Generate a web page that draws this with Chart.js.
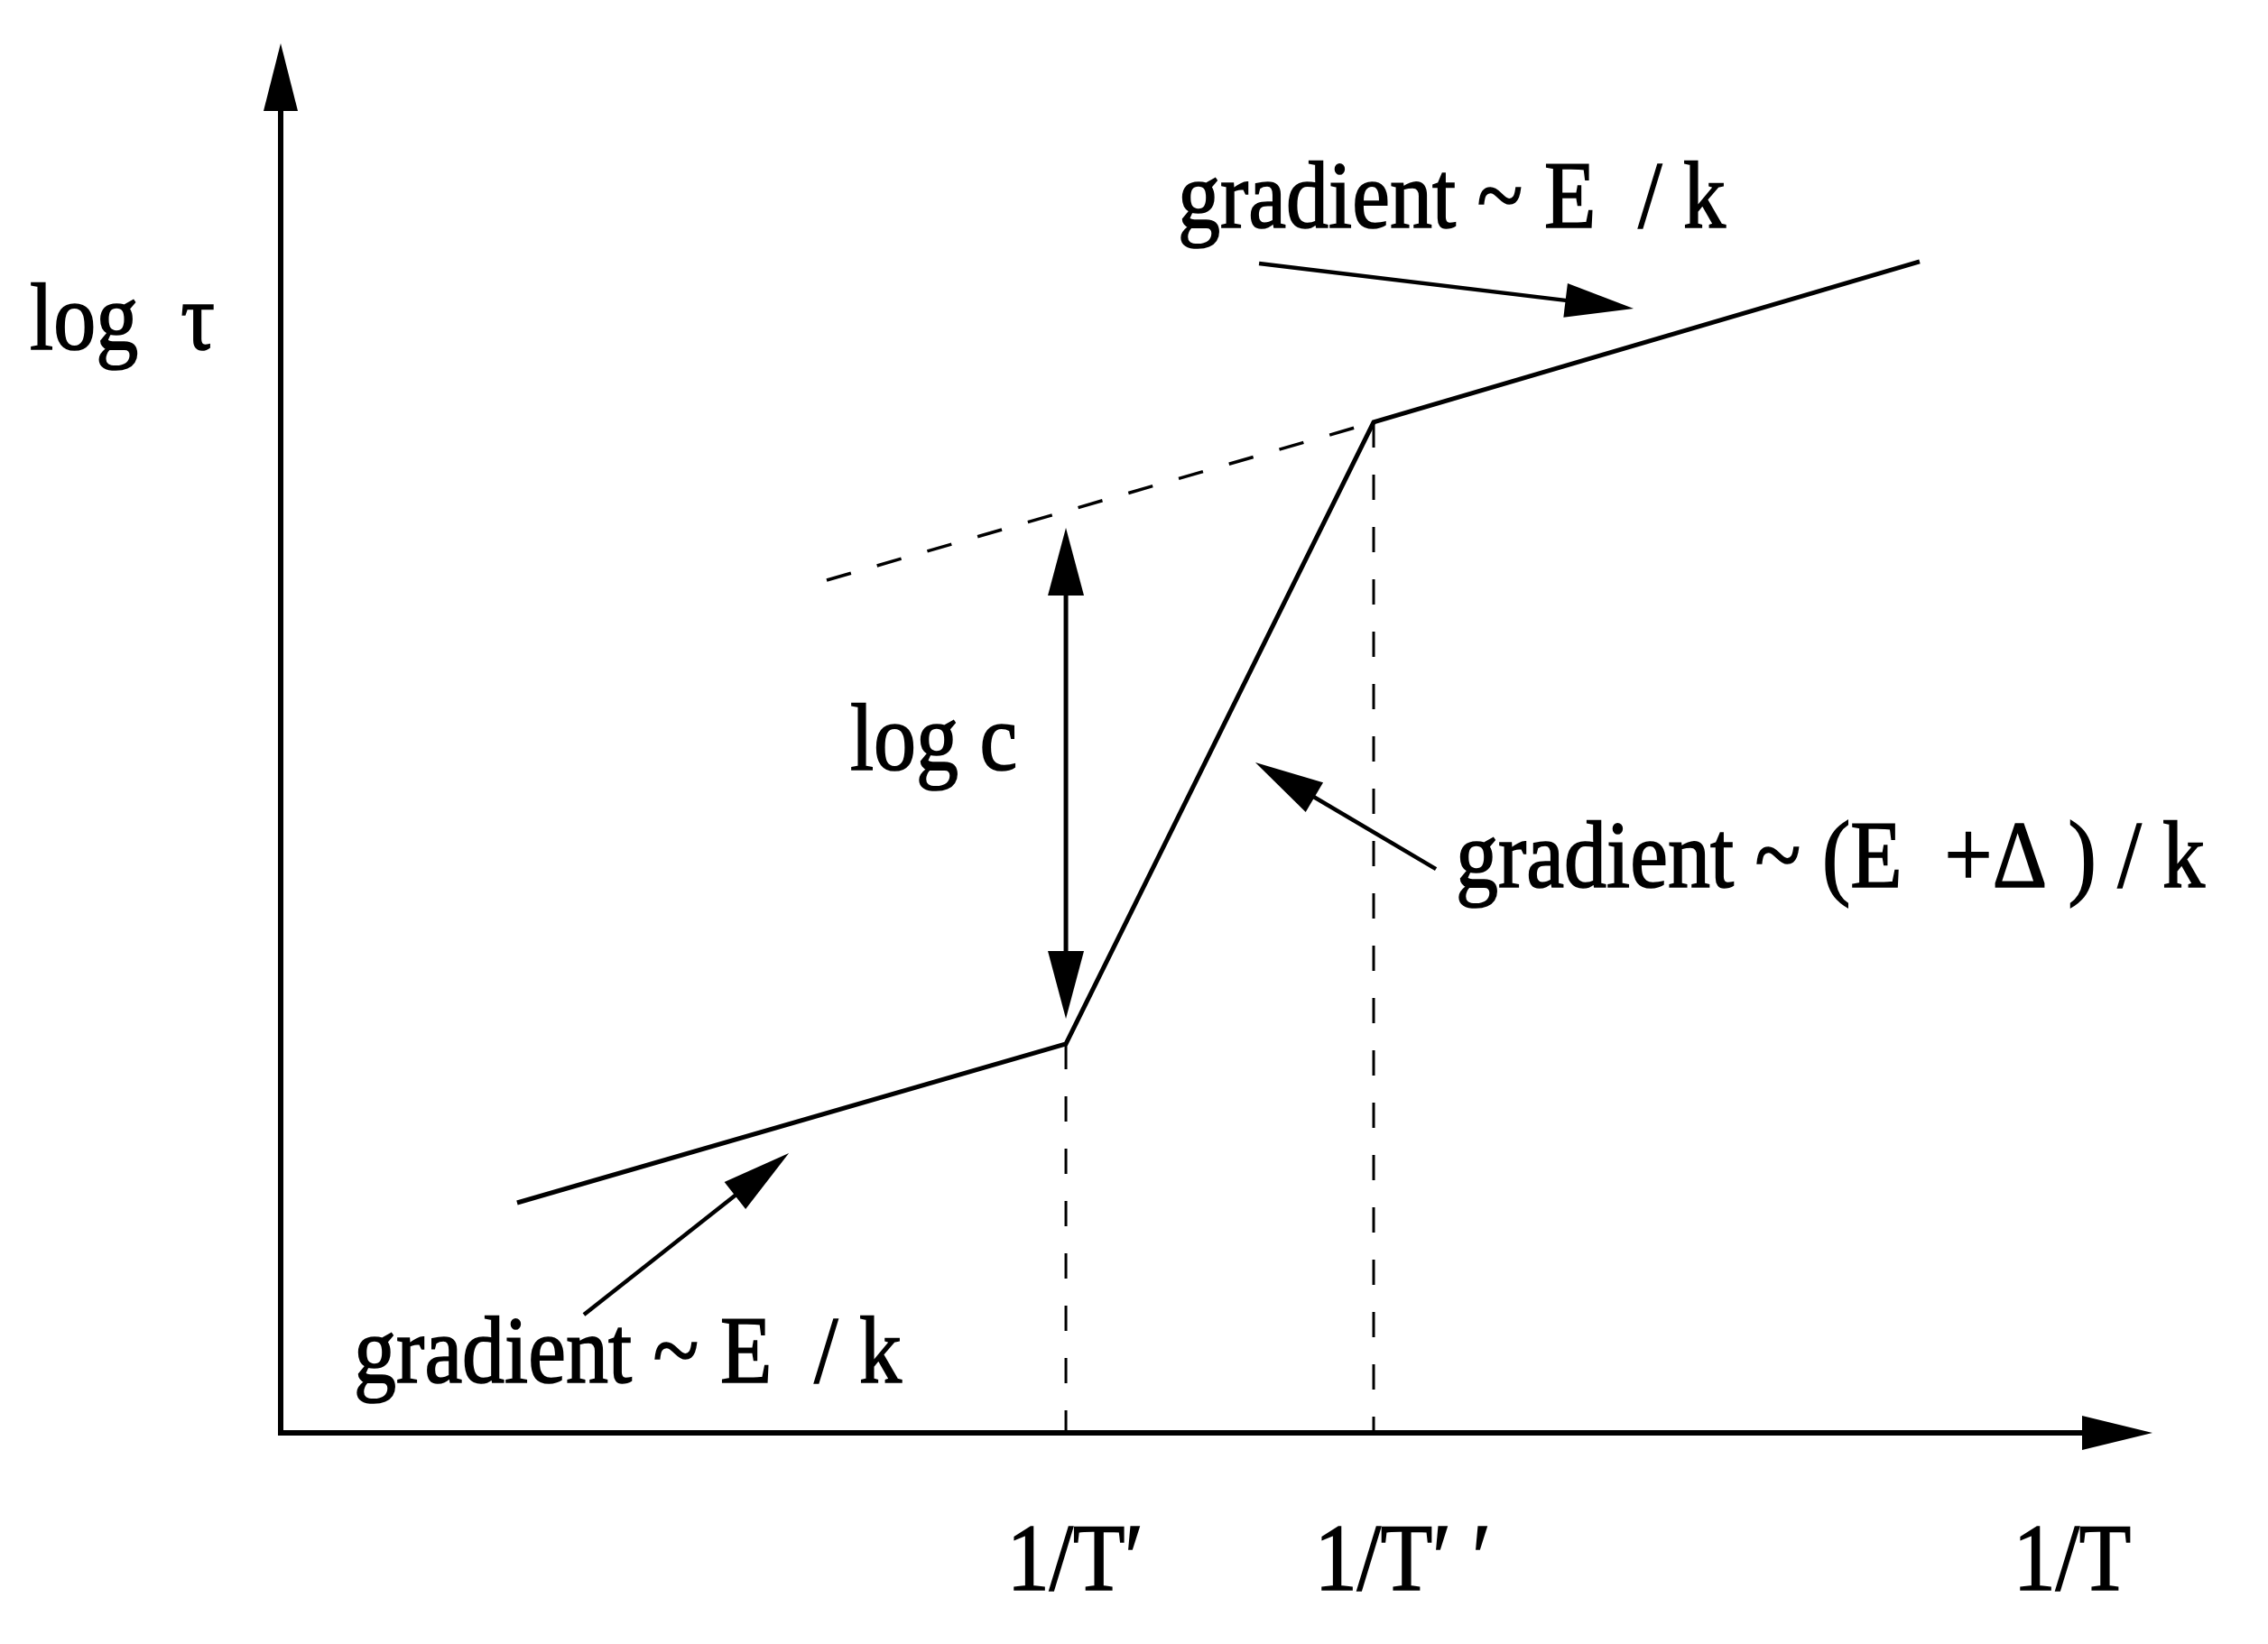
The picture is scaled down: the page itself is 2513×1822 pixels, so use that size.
<!DOCTYPE html>
<html>
<head>
<meta charset="utf-8">
<script src="https://cdn.jsdelivr.net/npm/chart.js@4.4.1/dist/chart.umd.min.js"></script>
<style>
  html, body { margin: 0; padding: 0; background: #fff; }
  .chart_box { width: 2513px; height: 1822px; position: relative; }
</style>
</head>
<body>
<div class="chart_box"><canvas id="myChart"></canvas></div>
<script>
// log tau vs 1/T, schematic units 0..10 on both axes
const curveX = [1.263, 4.195, 5.839, 8.756];
const curveY = [1.656, 2.799, 7.273, 8.429];
// dashed extrapolation of the high branch
const extrapX = [2.917, 5.839];
const extrapY = [6.136, 7.273];
// "log c" double arrow
const logcX = [4.195, 4.195];
const logcY = [6.513, 2.981];
// pointer arrows, tail -> tip
const pointerTailX = [5.227, 6.172, 1.620];
const pointerTailY = [8.416, 4.058, 0.851];
const pointerTipX = [7.228, 5.207, 2.715];
const pointerTipY = [8.091, 4.825, 2.013];
// ticks on the 1/T axis
const tickValues = [4.195, 5.839, 9.571];
const tickLabels = ["1/T′", "1/T′ ′", "1/T"];
const yTitle = "log  τ";
const noteTexts = ["gradient ~ E  / k", "log c", "gradient ~ (E  +Δ ) / k", "gradient ~ E  / k"];

const BLACK = "#000";
const FONT = '94px "Liberation Serif", "Times New Roman", serif';

// where the notes sit (data units, left edge / baseline)
const notePos = [
  { x: 4.793, y: 8.675 },
  { x: 3.042, y: 4.773 },
  { x: 6.278, y: 3.929 },
  { x: 0.391, y: 0.364 },
];

function head(ctx, x1, y1, x2, y2, len, half) {
  const a = Math.atan2(y2 - y1, x2 - x1);
  const bx = x2 - len * Math.cos(a);
  const by = y2 - len * Math.sin(a);
  ctx.beginPath();
  ctx.moveTo(x2, y2);
  ctx.lineTo(bx + half * Math.sin(a), by - half * Math.cos(a));
  ctx.lineTo(bx - half * Math.sin(a), by + half * Math.cos(a));
  ctx.closePath();
  ctx.fill();
}

function arrow(ctx, x1, y1, x2, y2, lw, len, half) {
  const a = Math.atan2(y2 - y1, x2 - x1);
  ctx.lineWidth = lw;
  ctx.beginPath();
  ctx.moveTo(x1, y1);
  ctx.lineTo(x2 - (len - 4) * Math.cos(a), y2 - (len - 4) * Math.sin(a));
  ctx.stroke();
  head(ctx, x1, y1, x2, y2, len, half);
}

function text(ctx, str, x, y) {
  ctx.save();
  ctx.translate(x, y);
  ctx.scale(1, 1.12);
  ctx.lineWidth = 1.5;
  ctx.fillText(str, 0, 0);
  ctx.strokeText(str, 0, 0);
  ctx.restore();
}

const schematic = {
  id: "schematic",
  afterDatasetsDraw(chart) {
    const ctx = chart.ctx;
    const sx = chart.scales.x;
    const sy = chart.scales.y;
    const px = (v) => sx.getPixelForValue(v);
    const py = (v) => sy.getPixelForValue(v);

    ctx.save();
    ctx.strokeStyle = BLACK;
    ctx.fillStyle = BLACK;
    ctx.lineCap = "butt";

    // axes with arrow heads
    arrow(ctx, px(0), py(0) + 3, px(0), py(10), 6, 75, 19);
    arrow(ctx, px(0) - 3, py(0), px(10), py(0), 6, 78, 19);

    // log c double arrow
    const ax = px(logcX[0]);
    const aTop = py(logcY[0]);
    const aBot = py(logcY[1]);
    ctx.lineWidth = 5;
    ctx.beginPath();
    ctx.moveTo(ax, aTop + 70);
    ctx.lineTo(ax, aBot - 70);
    ctx.stroke();
    head(ctx, ax, aBot, ax, aTop, 75, 20);
    head(ctx, ax, aTop, ax, aBot, 75, 20);

    // pointer arrows
    for (let i = 0; i < pointerTailX.length; i++) {
      arrow(ctx, px(pointerTailX[i]), py(pointerTailY[i]),
        px(pointerTipX[i]), py(pointerTipY[i]), 4.5, 76, 19);
    }

    // texts
    ctx.font = FONT;
    ctx.textAlign = "left";
    ctx.textBaseline = "alphabetic";
    noteTexts.forEach((t, i) => text(ctx, t, px(notePos[i].x), py(notePos[i].y)));
    text(ctx, yTitle, px(-1.34), py(7.799));

    const base = ctx.measureText("1/T").width;
    tickValues.forEach((v, i) => {
      text(ctx, tickLabels[i], px(v) - base / 2, py(-1.13));
    });
    ctx.restore();
  },
};

const pts = (xs, ys) => xs.map((v, i) => ({ x: v, y: ys[i] }));

const dashLine = {
  borderColor: BLACK,
  borderWidth: 3.5,
  borderDash: [28, 30],
  pointRadius: 0,
  fill: false,
  clip: false,
};

new Chart(document.getElementById("myChart").getContext("2d"), {
  type: "line",
  plugins: [schematic],
  data: {
    datasets: [
      {
        label: "log tau",
        data: pts(curveX, curveY),
        borderColor: BLACK,
        borderWidth: 5,
        pointRadius: 0,
        tension: 0,
        fill: false,
        clip: false,
      },
      Object.assign({ label: "extrapolation", data: pts(extrapX, extrapY) }, dashLine),
      Object.assign({ label: "T1", data: [{ x: curveX[1], y: curveY[1] }, { x: curveX[1], y: 0 }] }, dashLine, { borderWidth: 3 }),
      Object.assign({ label: "T2", data: [{ x: curveX[2], y: curveY[2] }, { x: curveX[2], y: 0 }] }, dashLine, { borderWidth: 3 }),
    ],
  },
  options: {
    responsive: true,
    maintainAspectRatio: false,
    animation: false,
    devicePixelRatio: 1,
    layout: { padding: { left: 311, right: 128, top: 48, bottom: 234 } },
    plugins: {
      legend: { display: false },
      tooltip: { enabled: false },
    },
    scales: {
      x: { type: "linear", min: 0, max: 10, display: false },
      y: { type: "linear", min: 0, max: 10, display: false },
    },
  },
});
</script>
</body>
</html>
